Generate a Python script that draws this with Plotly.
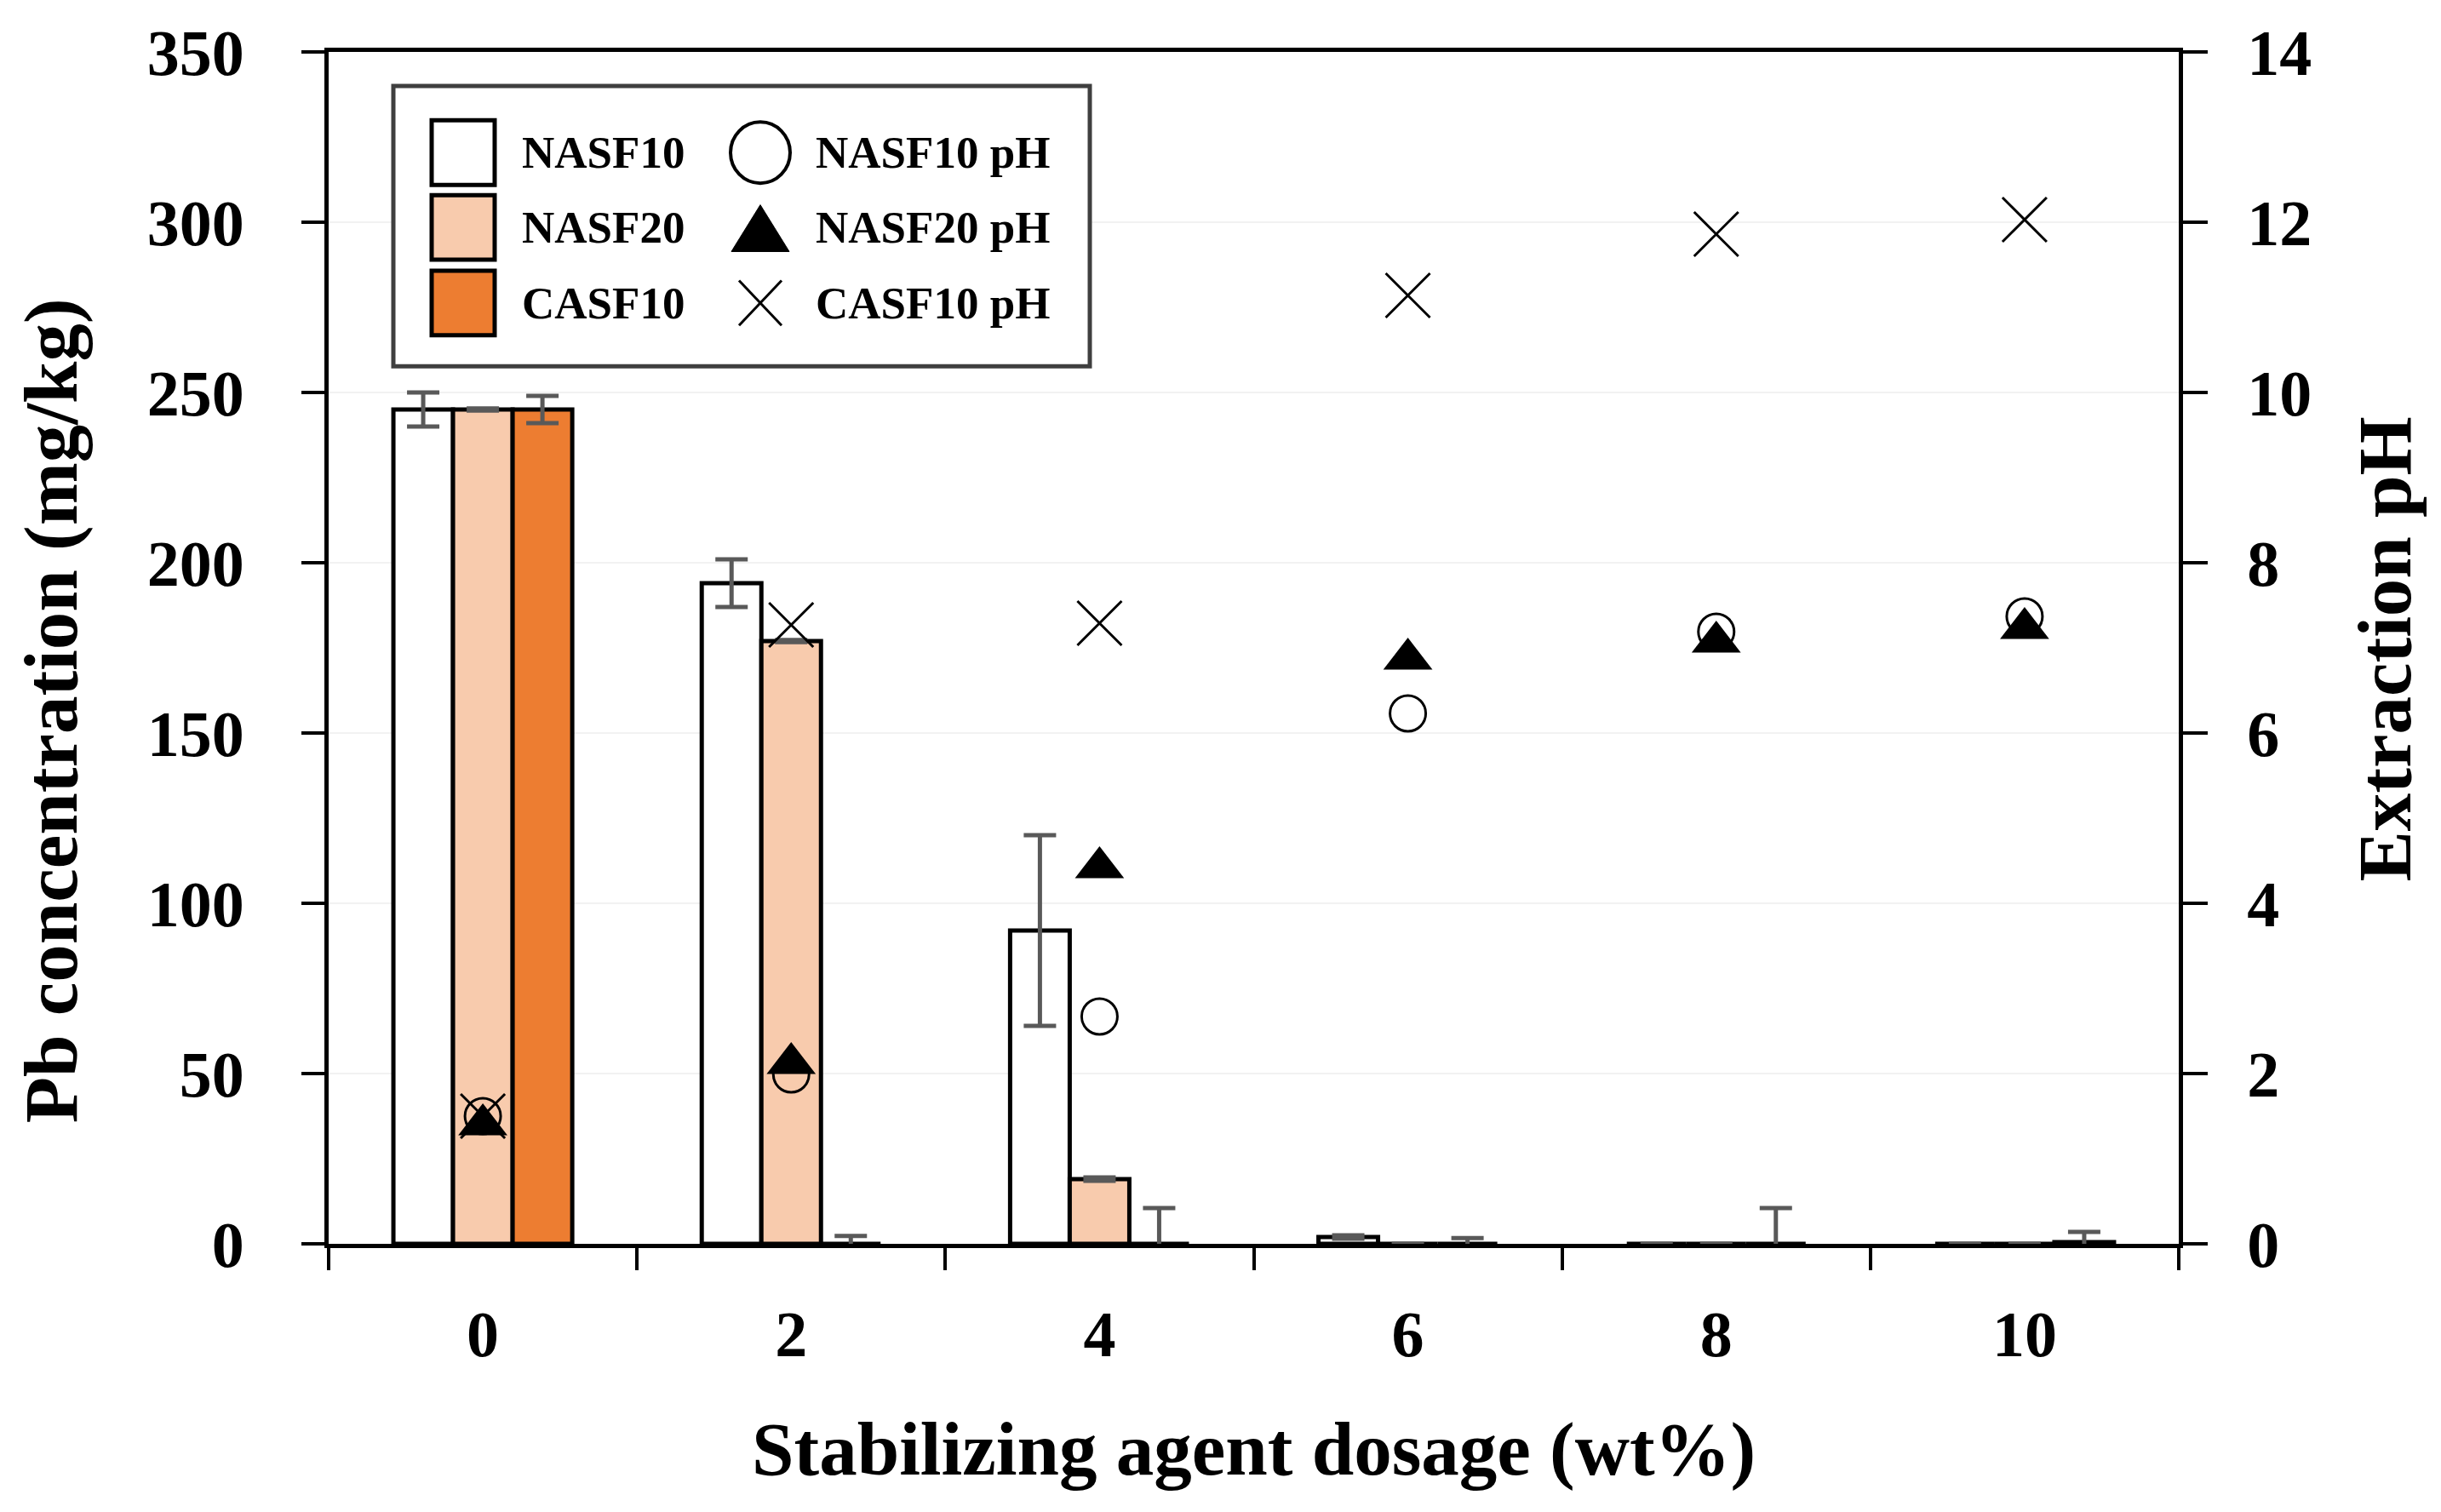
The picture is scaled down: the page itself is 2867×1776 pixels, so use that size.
import plotly.graph_objects as go

# ---------------- data ----------------
dosage = ["0", "2", "4", "6", "8", "10"]

nasf10 = [245, 194, 92, 2, 0, 0]
nasf10_err = [5, 7, 28, 0.5, 0, 0]
nasf20 = [245, 177, 19, 0, 0, 0]
nasf20_err = [0.3, 0.3, 0.5, 0, 0, 0]
casf10 = [245, 0, 0, 0, 0, 0.5]
casf10_err = [4, 2.3, 10.5, 1.7, 10.5, 3]

nasf10_ph = [1.5, 1.99, 2.67, 6.23, 7.19, 7.37]
nasf20_ph = [1.4, 2.12, 4.42, 6.87, 7.07, 7.23]
casf10_ph = [1.5, 7.27, 7.29, 11.14, 11.86, 12.03]

bar_names = ["NASF10", "NASF20", "CASF10"]
ph_names = ["NASF10 pH", "NASF20 pH", "CASF10 pH"]
y_ticks = [0, 50, 100, 150, 200, 250, 300, 350]
y2_ticks = [0, 2, 4, 6, 8, 10, 12, 14]

# ---------------- styles ----------------
FONT = "Liberation Serif"
W, H = 2867, 1776
OFF = 8  # page body margin
PL, PR, PT, PB = 386, 2559, 58, 1461
bar_colors = ["#FFFFFF", "#F8CBAD", "#ED7D31"]
err_color = "#595959"


def px(x):
    return (x - PL) / (PR - PL)


def py(y):
    return (PB - y) / (PB - PT)


fig = go.Figure()

for name, vals, errs, col in zip(bar_names, [nasf10, nasf20, casf10],
                                 [nasf10_err, nasf20_err, casf10_err], bar_colors):
    fig.add_trace(go.Bar(
        x=dosage, y=vals, name=name,
        marker=dict(color=col, line=dict(color="black", width=5)),
        error_y=dict(type="data", array=errs, visible=True, color=err_color,
                     thickness=5, width=19),
        showlegend=False,
    ))

fig.add_trace(go.Scatter(
    x=dosage, y=nasf10_ph, name=ph_names[0], mode="markers", yaxis="y2",
    marker=dict(symbol="circle-open", size=42, color="black", line=dict(width=3, color="black")),
    showlegend=False,
))
fig.add_trace(go.Scatter(
    x=dosage, y=nasf20_ph, name=ph_names[1], mode="markers", yaxis="y2",
    marker=dict(symbol="triangle-up", size=50, color="black", line=dict(width=0)),
    showlegend=False,
))
fig.add_trace(go.Scatter(
    x=dosage, y=casf10_ph, name=ph_names[2], mode="markers", yaxis="y2",
    marker=dict(symbol="x-thin", size=52, color="black", line=dict(width=3, color="black")),
    showlegend=False,
))

tickfont = dict(family=FONT, size=76, color="black", weight="bold")
titlefont = dict(family=FONT, size=89, color="black", weight="bold")

fig.update_layout(
    width=W - 2 * OFF, height=H - 2 * OFF,
    margin=dict(l=PL - OFF, r=W - PR - OFF, t=PT - OFF, b=H - PB - OFF, pad=0),
    paper_bgcolor="white", plot_bgcolor="white",
    barmode="group", bargap=0.42, bargroupgap=0,
    xaxis=dict(
        type="category", categoryorder="array", categoryarray=dosage,
        range=[-0.5, 5.5], tickson="boundaries",
        showline=True, linecolor="black", linewidth=5, mirror=True,
        ticks="outside", ticklen=26, tickwidth=4, tickcolor="black",
        tickfont=tickfont, ticklabelstandoff=36, showgrid=False,
    ),
    yaxis=dict(
        range=[0, 350], tickvals=y_ticks,
        showline=True, linecolor="black", linewidth=5,
        ticks="outside", ticklen=27, tickwidth=4, tickcolor="black",
        tickfont=tickfont, ticklabelstandoff=52,
        showgrid=True, gridcolor="#F2F2F2", gridwidth=2, zeroline=False,
    ),
    yaxis2=dict(
        range=[0, 14], tickvals=y2_ticks, overlaying="y", side="right",
        showline=True, linecolor="black", linewidth=5,
        ticks="outside", ticklen=29, tickwidth=4, tickcolor="black",
        tickfont=tickfont, ticklabelstandoff=31,
        showgrid=False, zeroline=False,
    ),
)

annotations = [
    dict(text="Stabilizing agent dosage (wt%)", x=0.5, y=py(1703), xref="paper", yref="paper",
         xanchor="center", yanchor="middle", showarrow=False, font=titlefont),
    dict(text="Pb concentration (mg/kg)", x=px(60), y=py(834), xref="paper", yref="paper",
         xanchor="center", yanchor="middle", textangle=-90, showarrow=False, font=titlefont),
    dict(text="Extraction pH", x=px(2801), y=py(761), xref="paper", yref="paper",
         xanchor="center", yanchor="middle", textangle=-90, showarrow=False, font=titlefont),
]

# ---------------- legend (drawn as layout decoration) ----------------
shapes = []
shapes.append(dict(type="rect", xref="paper", yref="paper",
                   x0=px(462), x1=px(1280), y0=py(98), y1=py(428),
                   line=dict(color="#3F3F3F", width=5), fillcolor="white", layer="above"))
row_c = [176.5, 264.5, 353.5]
legfont = dict(family=FONT, size=53, color="black", weight="bold")
for i, (name, col) in enumerate(zip(bar_names, bar_colors)):
    yc = row_c[i]
    shapes.append(dict(type="rect", xref="paper", yref="paper",
                       x0=px(507), x1=px(581), y0=py(yc - 38), y1=py(yc + 38),
                       line=dict(color="black", width=5), fillcolor=col, layer="above"))
    annotations.append(dict(text=name, x=px(611), y=py(yc), xref="paper", yref="paper",
                            xanchor="left", yanchor="middle", showarrow=False, font=legfont))
    annotations.append(dict(text=ph_names[i], x=px(956), y=py(yc), xref="paper", yref="paper",
                            xanchor="left", yanchor="middle", showarrow=False, font=legfont))

mx = 893
# circle
shapes.append(dict(type="circle", xref="paper", yref="paper",
                   x0=px(mx - 35), x1=px(mx + 35), y0=py(row_c[0] - 36), y1=py(row_c[0] + 36),
                   line=dict(color="black", width=4), fillcolor="rgba(0,0,0,0)", layer="above"))
# triangle
t_top, t_bot = 238, 293
shapes.append(dict(type="path", xref="paper", yref="paper",
                   path=f"M {px(mx - 34)} {py(t_bot)} L {px(mx + 34)} {py(t_bot)} L {px(mx)} {py(t_top)} Z",
                   line=dict(color="black", width=1), fillcolor="black", layer="above"))
# x
x_top, x_bot = 327, 380
shapes.append(dict(type="line", xref="paper", yref="paper",
                   x0=px(mx - 25), x1=px(mx + 25), y0=py(x_top), y1=py(x_bot),
                   line=dict(color="black", width=3), layer="above"))
shapes.append(dict(type="line", xref="paper", yref="paper",
                   x0=px(mx - 25), x1=px(mx + 25), y0=py(x_bot), y1=py(x_top),
                   line=dict(color="black", width=3), layer="above"))

fig.update_layout(shapes=shapes, annotations=annotations)

fig.write_html("out.html")
